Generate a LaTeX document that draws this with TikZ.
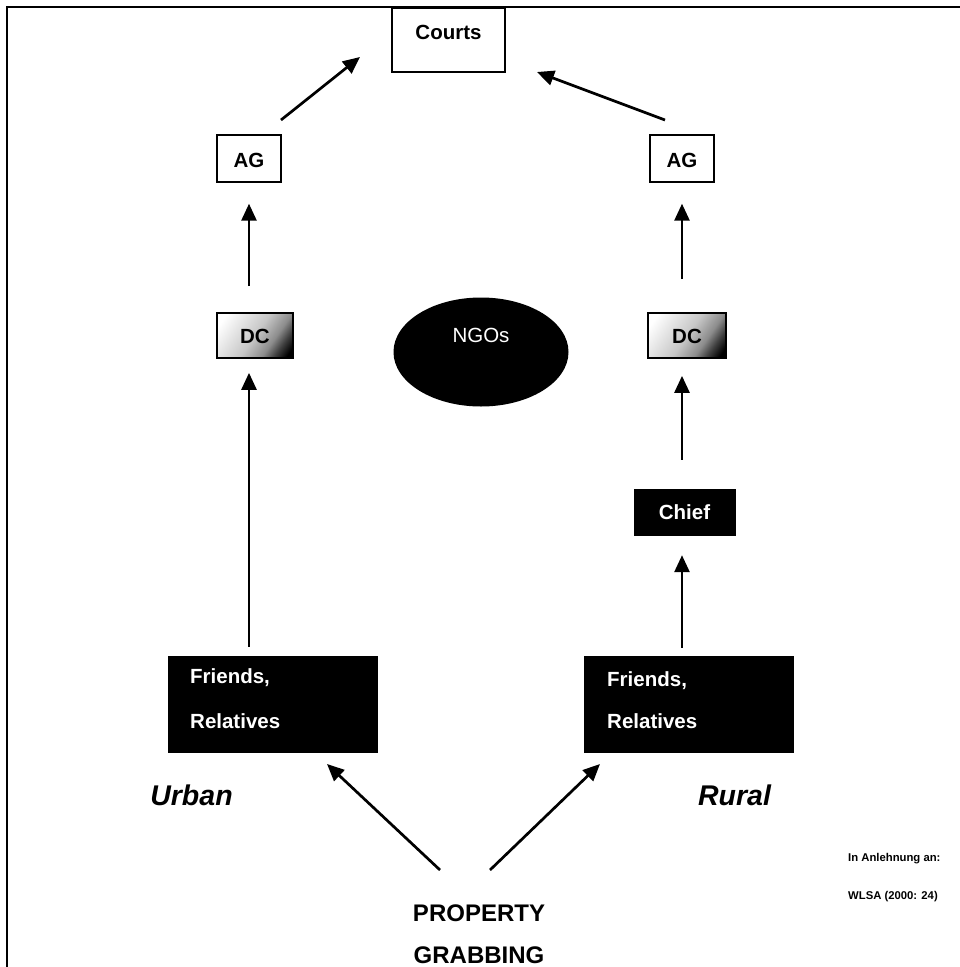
\documentclass[tikz,border=0pt]{standalone}
\usepackage{fontspec}
\setmainfont{Liberation Sans}
\usetikzlibrary{arrows.meta,shapes.geometric}
% soft diagonal fill of the DC boxes
\pgfdeclarehorizontalshading{dcgrad}{100bp}{color(0bp)=(white); color(22bp)=(white); color(50bp)=(black!22); color(64bp)=(black!45); color(72bp)=(black!75); color(80bp)=(black); color(100bp)=(black)}
\begin{document}
\begin{tikzpicture}[x=1pt,y=-1pt]
\tikzset{
  lbl/.style={font=\fontsize{20.5}{24}\selectfont\bfseries, inner sep=0pt},
  smalllbl/.style={font=\fontsize{11.3}{13}\selectfont\bfseries, inner sep=0pt},
  biglbl/.style={font=\fontsize{24}{28}\selectfont\bfseries, inner sep=0pt},
  arealbl/.style={font=\fontsize{28.5}{32}\selectfont\bfseries\itshape, inner sep=0pt},
  whitebox/.style={draw=black, line width=1.4pt, fill=white, inner sep=0pt},
  blackbox/.style={draw=black, fill=black, inner sep=0pt},
  shadedbox/.style={draw=black, line width=1.7pt, inner sep=0pt,
    shading=dcgrad, shading angle=-35},
  arr/.style={line width=2.7pt, -{Triangle[length=17pt,width=15pt]}},
}
\useasboundingbox (0,0) rectangle (960,967);
\clip (0,0) rectangle (960,967);

% frame
\draw[line width=2pt] (7,967) -- (7,7) -- (960,7);

% boxes
\node[whitebox, minimum width=113, minimum height=64] (courts) at (448.5,40) {};
\node[whitebox, minimum width=64, minimum height=47] (agL) at (249,158.5) {};
\node[whitebox, minimum width=64, minimum height=47] (agR) at (682,158.5) {};
\node[shadedbox, minimum width=76, minimum height=45] (dcL) at (255,335.5) {};
\node[shadedbox, minimum width=78, minimum height=45] (dcR) at (687,335.5) {};
\node[ellipse, fill=black, minimum width=175, minimum height=109, inner sep=0pt] (ngo) at (481,352) {};
\node[blackbox, minimum width=101, minimum height=46] (chief) at (684.5,512) {};
\node[blackbox, minimum width=209, minimum height=96] (frL) at (272.5,704) {};
\node[blackbox, minimum width=209, minimum height=96] (frR) at (688.5,704) {};

% labels
\node[lbl] (tCourts) at (448.5,32) {Courts};
\node[lbl] (tAgL) at (249,160) {AG};
\node[lbl] (tAgR) at (682,160) {AG};
\node[lbl] (tDcL) at (255,336) {DC};
\node[lbl] (tDcR) at (687,336) {DC};
\node[lbl, font=\fontsize{20.5}{24}\selectfont, text=white] (tNgo) at (481,335) {NGOs};
\node[lbl, text=white] (tChief) at (684.5,512) {Chief};
\node[lbl, text=white, anchor=base west] (tFrL1) at (190,683) {Friends,};
\node[lbl, text=white, anchor=base west] (tFrL2) at (190,728) {Relatives};
\node[lbl, text=white, anchor=base west] (tFrR1) at (607,686) {Friends,};
\node[lbl, text=white, anchor=base west] (tFrR2) at (607,728) {Relatives};
\node[arealbl] (tUrban) at (191.5,795) {Urban};
\node[arealbl] (tRural) at (734.5,795) {Rural};
\node[biglbl, anchor=base] (tProp) at (479,921) {PROPERTY};
\node[biglbl, anchor=base] (tGrab) at (479,963) {GRABBING};
\node[smalllbl, anchor=base west] (tSrc1) at (848,861) {In Anlehnung an:};
\node[smalllbl, anchor=base west] (tSrc2) at (848,899) {WLSA (2000: 24)};

% arrow end points
\coordinate (aLtail) at (281,120);
\coordinate (aLtip) at (360,57);
\coordinate (aRtail) at (665,120);
\coordinate (aRtip) at (537,72);
\coordinate (pLtail) at (440,870);
\coordinate (pLtip) at (327,764);
\coordinate (pRtail) at (490,870);
\coordinate (pRtip) at (600,764);

% connectors
\draw[arr] (aLtail) -- (aLtip);
\draw[arr] (aRtail) -- (aRtip);
\draw[arr, shorten <=26pt, shorten >=21pt] (dcL.north -| agL.south) -- (agL.south);
\draw[arr, shorten <=33pt, shorten >=21pt] (dcR.north -| agR.south) -- (agR.south);
\draw[arr, shorten <=9pt, shorten >=14pt] (frL.north -| agL.south) -- (dcL.south -| agL.south);
\draw[arr, shorten <=29pt, shorten >=17pt] (chief.north -| agR.south) -- (dcR.south -| agR.south);
\draw[arr, shorten <=8pt, shorten >=20pt] (frR.north -| agR.south) -- (chief.south -| agR.south);
\draw[arr] (pLtail) -- (pLtip);
\draw[arr] (pRtail) -- (pRtip);
\end{tikzpicture}
\end{document}
